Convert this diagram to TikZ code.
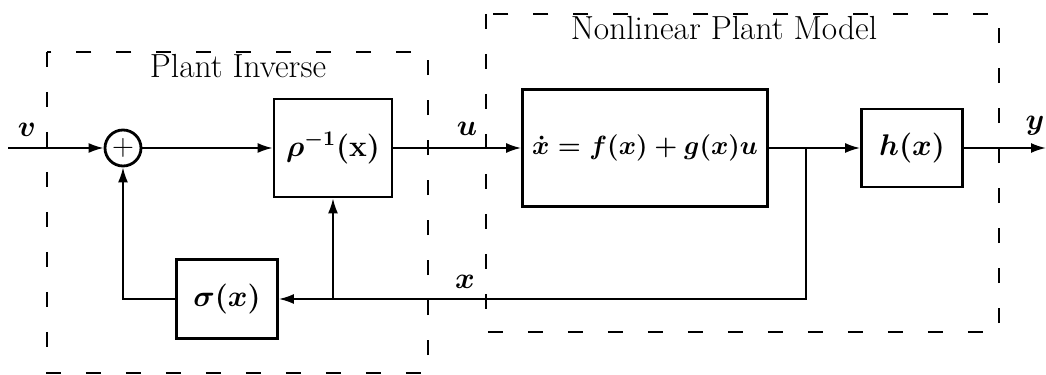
\RequirePackage{fix-cm}
\documentclass[tikz,border=0pt]{standalone}
\usepackage{amsmath,amssymb}
\usepackage{tikz}
\usetikzlibrary{arrows.meta,positioning,calc}
\tikzset{blk/.style={draw=black,line width=1.6pt,fill=white,align=center,inner sep=2pt,font=\fontsize{17}{20}\selectfont\boldmath},sig/.style={-{Latex[length=3mm,width=2mm]},line width=1.1pt},wire/.style={line width=1.1pt},grp/.style={line width=1.1pt,dash pattern=on 0.3cm off 0.5cm},lab/.style={font=\fontsize{17}{20}\selectfont\boldmath,inner sep=1pt},ttl/.style={font=\fontsize{19}{22}\selectfont}}

\begin{document}
\begin{tikzpicture}[x=0.02cm,y=-0.02cm]
\useasboundingbox (0,0) rectangle (1046,375);
% dashed groups
\draw[grp] (47,52) rectangle (428,373);
\draw[grp] (486,14) rectangle (999,332);
\node[ttl] (tinv) at (238,66) {Plant Inverse};
\node[ttl] (tmod) at (724,28) {Nonlinear Plant Model};
% blocks
\node[draw,circle,line width=1.6pt,minimum size=0.72cm,inner sep=0pt,font=\LARGE] (sum) at (123,148) {$+$};
\node[blk,minimum width=2.36cm,minimum height=1.96cm] (rho) at (333,148) {$\rho^{-1}(\mathbf{x})$};
\node[blk,minimum width=4.9cm,minimum height=2.34cm,font=\fontsize{15}{18}\selectfont\boldmath] (plant) at (645,148) {$\dot{x}=f(x)+g(x)u$};
\node[blk,minimum width=2.02cm,minimum height=1.56cm] (hx) at (912,148) {$h(x)$};
\node[blk,minimum width=2.02cm,minimum height=1.58cm] (sig) at (227,299) {$\sigma(x)$};
\coordinate (in) at (8,148);
\coordinate (out) at (1046,148);
\coordinate (br1) at (806,148);
\coordinate (br2) at (333,299);
% signals
\draw[sig] (in) -- (sum);
\draw[sig] (sum) -- (rho);
\draw[sig] (rho) -- (plant);
\draw[wire] (plant.east) -- (br1);
\draw[sig] (br1) -- (hx);
\draw[sig] (hx) -- (out);
\draw[sig] (br1) |- (sig.east);
\draw[sig] (br2) -- (rho.south);
\draw[sig] (sig.west) -| (sum.south);
\node[lab] (lv) at (27,130) {$v$};
\node[lab] (lu) at (467,129) {$u$};
\node[lab] (ly) at (1035,126) {$y$};
\node[lab] (lx) at (465,282) {$x$};
\end{tikzpicture}
\end{document}
